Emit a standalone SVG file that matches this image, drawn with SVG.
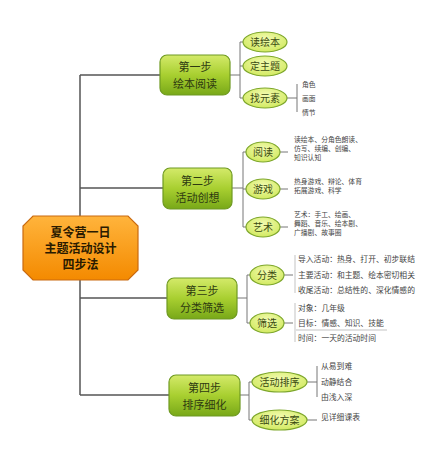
<svg xmlns="http://www.w3.org/2000/svg" width="443" height="463" viewBox="0 0 443 463">
<defs>
<linearGradient id="gStep" x1="0" y1="0" x2="0" y2="1">
<stop offset="0" stop-color="#d4ea6a"/><stop offset="0.5" stop-color="#a8cf30"/><stop offset="1" stop-color="#78a818"/>
</linearGradient>
<linearGradient id="gRoot" x1="0" y1="0" x2="0" y2="1">
<stop offset="0" stop-color="#ffb43c"/><stop offset="1" stop-color="#f48a00"/>
</linearGradient>
<radialGradient id="gEll" cx="0.5" cy="0.35" r="0.7">
<stop offset="0" stop-color="#f2fbb0"/><stop offset="1" stop-color="#cfe85a"/>
</radialGradient>
</defs>
<style>
text{font-family:"Noto Sans CJK SC","Liberation Sans",sans-serif;fill:#333}
.step{fill:url(#gStep);stroke:#6f9a22;stroke-width:1.2}
.ell{fill:url(#gEll);stroke:#7ea72c;stroke-width:1.2}
.st{font-size:11px;text-anchor:middle;fill:#2e3a10}
.et{font-size:10px;text-anchor:middle;fill:#3a4a10}
.sm{font-size:6.8px;fill:#444}
.md{font-size:7.8px;fill:#444}
.trunk{stroke:#555;stroke-width:1.5;fill:none}
.br{stroke:#777;stroke-width:1;fill:none}
.lt{stroke:#aaa;stroke-width:0.7;fill:none}
</style>
<rect width="443" height="463" fill="#fff"/>
<g id="connectors">
<path class="trunk" d="M80,75V216M80,280V395M80,75H160M80,188H163M80,298H167M80,395H169"/>
<path class="br" d="M230,75H240M240,42V98M240,42H243M240,66H243M240,98H243"/>
<path class="br" d="M287,98H297M297,84V112"/>
<path class="br" d="M232,188H243M243,152V227M243,152H246M243,189H246M243,227H246"/>
<path class="br" d="M280,152H288M280,189H288M280,227H288"/>
<path class="br" d="M237,298H247M247,275V323M247,275H250M247,323H250"/>
<path class="br" d="M284,275H293M284,323H293"/>
<path class="lt" d="M295,255V293M295,303V342M296,330H387"/>
<path class="br" d="M240,395H249M249,382V420M249,382H252M249,420H252"/>
<path class="br" d="M307,382H317M317,366V397M307,420H317"/>
</g>
<g id="root">
<path d="M33,216H128L138,226V270L128,280H33L23,270V226Z" fill="url(#gRoot)" stroke="#c96a10" stroke-width="1.2"/>
<text x="80.5" y="237" font-size="12" font-weight="bold" text-anchor="middle" style="fill:#2a1a00">夏令营一日</text>
<text x="80.5" y="253" font-size="12" font-weight="bold" text-anchor="middle" style="fill:#2a1a00">主题活动设计</text>
<text x="80.5" y="269" font-size="12" font-weight="bold" text-anchor="middle" style="fill:#2a1a00">四步法</text>
</g>
<g id="step1">
<rect class="step" x="160" y="55" width="70" height="40" rx="7"/>
<text class="st" x="195" y="71">第一步</text>
<text class="st" x="195" y="88">绘本阅读</text>
</g>
<g id="s1a"><ellipse class="ell" cx="265" cy="42" rx="22" ry="10"/><text class="et" x="265" y="45.5">读绘本</text></g>
<g id="s1b"><ellipse class="ell" cx="265" cy="66" rx="22" ry="10"/><text class="et" x="265" y="69.5">定主题</text></g>
<g id="s1c"><ellipse class="ell" cx="265" cy="98" rx="22" ry="10"/><text class="et" x="265" y="101.5">找元素</text>
<text class="sm" x="302" y="87">角色</text><text class="sm" x="302" y="101">画面</text><text class="sm" x="302" y="115">情节</text></g>
<g id="step2">
<rect class="step" x="163" y="168" width="69" height="41" rx="7"/>
<text class="st" x="197.5" y="185">第二步</text>
<text class="st" x="197.5" y="202">活动创想</text>
</g>
<g id="s2a"><ellipse class="ell" cx="263" cy="152" rx="17" ry="10"/><text class="et" x="263" y="155.5">阅读</text>
<text class="sm" x="294" y="142">读绘本、分角色朗读、</text><text class="sm" x="294" y="151">仿写、续编、创编、</text><text class="sm" x="294" y="160">知识认知</text></g>
<g id="s2b"><ellipse class="ell" cx="263" cy="189" rx="17" ry="10"/><text class="et" x="263" y="192.5">游戏</text>
<text class="sm" x="294" y="184">热身游戏、辩论、体育</text><text class="sm" x="294" y="193">拓展游戏、科学</text></g>
<g id="s2c"><ellipse class="ell" cx="263" cy="227" rx="17" ry="10"/><text class="et" x="263" y="230.5">艺术</text>
<text class="sm" x="294" y="217">艺术：手工、绘画、</text><text class="sm" x="294" y="226">舞蹈、音乐、绘本剧、</text><text class="sm" x="294" y="235">广播剧、故事圈</text></g>
<g id="step3">
<rect class="step" x="167" y="278" width="70" height="41" rx="7"/>
<text class="st" x="202" y="295">第三步</text>
<text class="st" x="202" y="312">分类筛选</text>
</g>
<g id="s3a"><ellipse class="ell" cx="267" cy="275" rx="17" ry="10"/><text class="et" x="267" y="278.5">分类</text>
<text class="md" x="298" y="262">导入活动：热身、打开、初步联结</text><text class="md" x="298" y="277.5">主要活动：和主题、绘本密切相关</text><text class="md" x="298" y="293">收尾活动：总结性的、深化情感的</text></g>
<g id="s3b"><ellipse class="ell" cx="267" cy="323" rx="17" ry="10"/><text class="et" x="267" y="326.5">筛选</text>
<text class="md" x="298" y="311">对象：几年级</text><text class="md" x="298" y="326">目标：情感、知识、技能</text><text class="md" x="298" y="341">时间：一天的活动时间</text></g>
<g id="step4">
<rect class="step" x="169" y="375" width="71" height="41" rx="7"/>
<text class="st" x="204.5" y="392">第四步</text>
<text class="st" x="204.5" y="409">排序细化</text>
</g>
<g id="s4a"><ellipse class="ell" cx="279.5" cy="382" rx="27.5" ry="10"/><text class="et" x="279.5" y="385.5">活动排序</text>
<text class="md" x="321" y="369">从易到难</text><text class="md" x="321" y="385">动静结合</text><text class="md" x="321" y="400">由浅入深</text></g>
<g id="s4b"><ellipse class="ell" cx="279.5" cy="420" rx="27.5" ry="10"/><text class="et" x="279.5" y="423.5">细化方案</text>
<text class="md" x="321" y="420">见详细课表</text></g>
</svg>
